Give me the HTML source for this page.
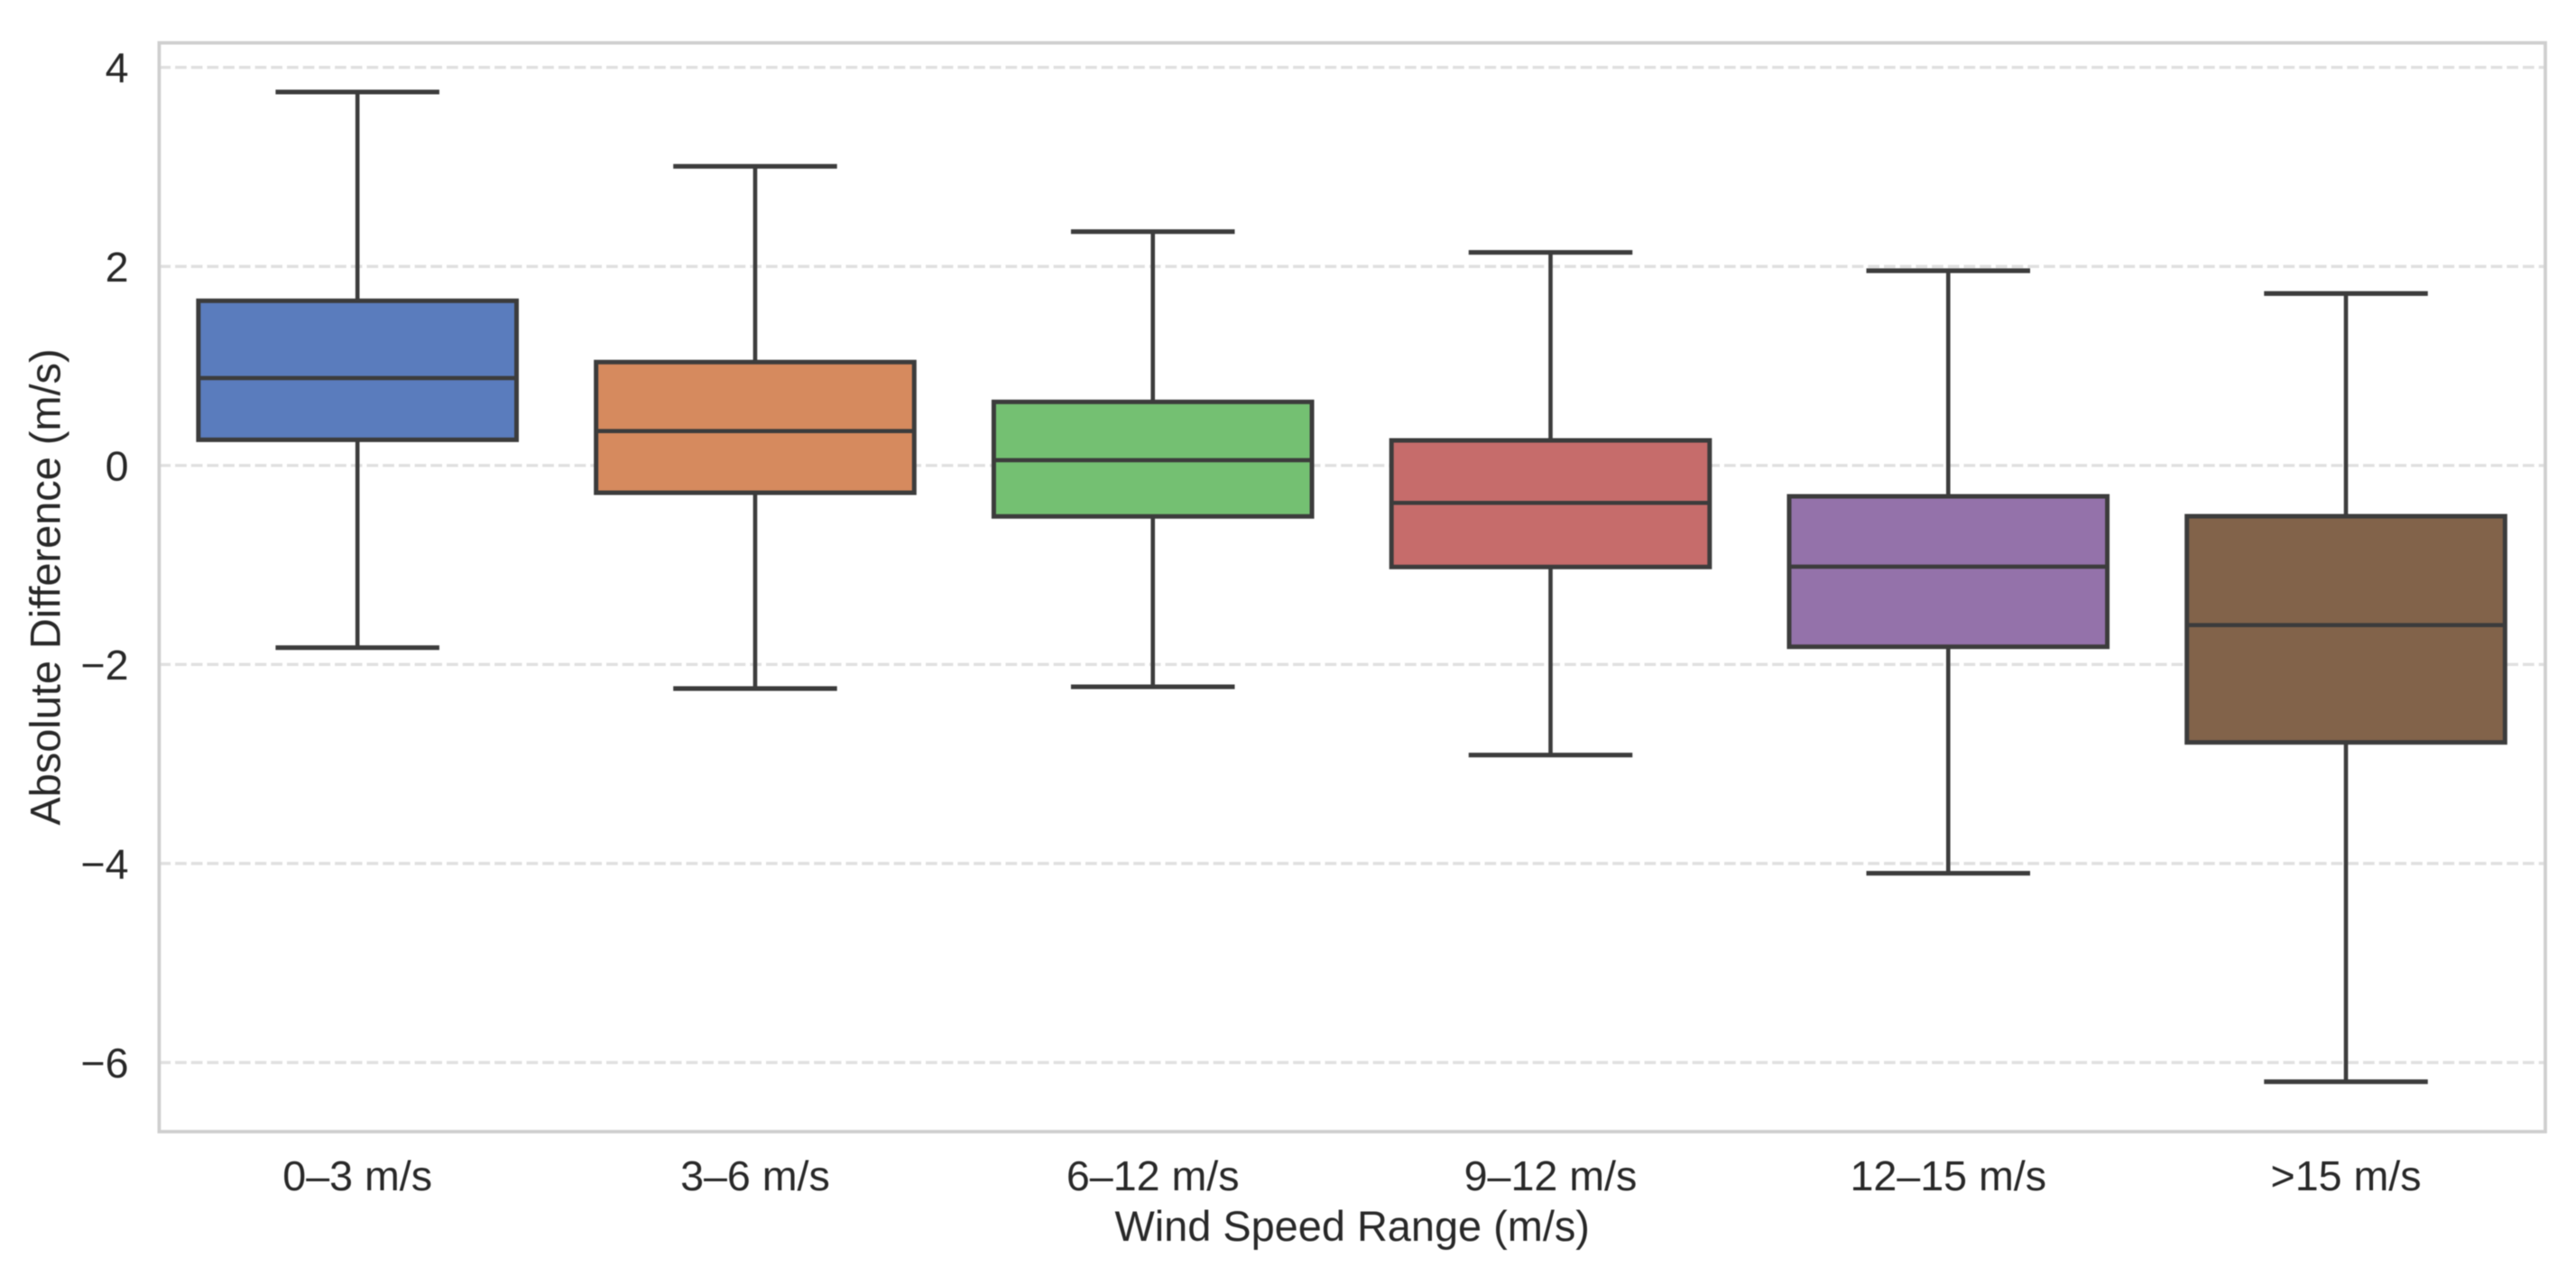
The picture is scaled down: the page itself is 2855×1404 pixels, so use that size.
<!DOCTYPE html>
<html lang="en">
<head>
<meta charset="utf-8">
<title>Absolute Difference by Wind Speed Range</title>
<style>
html,body{margin:0;padding:0;background:#fff;width:2855px;height:1404px;overflow:hidden}
svg{display:block;filter:blur(0.55px)}
text{font-family:"Liberation Sans",Arial,sans-serif;fill:#282828}
</style>
</head>
<body>
<svg id="chart" xmlns="http://www.w3.org/2000/svg" width="2855" height="1404" viewBox="0 0 2855 1404"></svg>
<script>
const categories = ['0–3 m/s', '3–6 m/s', '6–12 m/s', '9–12 m/s', '12–15 m/s', '>15 m/s'];
const whiskerHigh = [3.753, 3.006, 2.350, 2.141, 1.957, 1.728];
const q3Values = [1.655, 1.039, 0.639, 0.252, -0.310, -0.510];
const medianValues = [0.878, 0.346, 0.053, -0.376, -1.017, -1.604];
const q1Values = [0.258, -0.274, -0.512, -1.020, -1.822, -2.783];
const whiskerLow = [-1.831, -2.242, -2.224, -2.910, -4.098, -6.193];
const yTickValues = [4, 2, 0, -2, -4, -6];
const yTickLabels = ['4', '2', '0', '−2', '−4', '−6'];
const boxColors = ['#5a7cbd', '#d68a5e', '#74c072', '#c66c6b', '#9472aa', '#82634a'];

const NS = 'http://www.w3.org/2000/svg';
const svg = document.getElementById('chart');
const plot = { left: 176.4, right: 2821, top: 47.5, bottom: 1254 };
const INK = '#3c3c3c';
const FONT = 46.6;

function xScale(i) {
  const step = (plot.right - plot.left) / categories.length;
  return plot.left + step * (i + 0.5) - 0.6;
}
function bandWidth() {
  return (plot.right - plot.left) / categories.length;
}
function yScale(v) {
  return 515.8 - 110.27 * v;
}
function make(tag, attrs, parent) {
  const el = document.createElementNS(NS, tag);
  for (const k in attrs) el.setAttribute(k, attrs[k]);
  parent.appendChild(el);
  return el;
}

// gridlines
const gridGroup = make('g', {}, svg);


yTickValues.forEach(function (v) {
  const line = make('line', {
    x1: plot.left, x2: plot.right, y1: yScale(v), y2: yScale(v),
    stroke: '#e0e0e0', 'stroke-width': 3.4, 'stroke-dasharray': '12.7 5'
  }, gridGroup);
  
  
});

// boxes
categories.forEach(function (cat, i) {
  const cx = xScale(i);
  const boxHalf = bandWidth() * 0.4;
  const capHalf = bandWidth() * 0.2;
  const group = make('g', {}, svg);
  
  

  const upper = make('line', { x1: cx, x2: cx, y1: yScale(q3Values[i]), y2: yScale(whiskerHigh[i]), stroke: INK, 'stroke-width': 4.6 }, group);
  
  

  const lower = make('line', { x1: cx, x2: cx, y1: yScale(q1Values[i]), y2: yScale(whiskerLow[i]), stroke: INK, 'stroke-width': 4.6 }, group);
  
  

  const capHi = make('line', { x1: cx - capHalf, x2: cx + capHalf, y1: yScale(whiskerHigh[i]), y2: yScale(whiskerHigh[i]), stroke: INK, 'stroke-width': 5.2, 'stroke-linecap': 'square' }, group);
  
  

  const capLo = make('line', { x1: cx - capHalf, x2: cx + capHalf, y1: yScale(whiskerLow[i]), y2: yScale(whiskerLow[i]), stroke: INK, 'stroke-width': 5.2, 'stroke-linecap': 'square' }, group);
  
  

  const box = make('rect', {
    x: cx - boxHalf, y: yScale(q3Values[i]), width: boxHalf * 2,
    height: yScale(q1Values[i]) - yScale(q3Values[i]),
    fill: boxColors[i], stroke: INK, 'stroke-width': 5
  }, group);
  
  

  const med = make('line', { x1: cx - boxHalf, x2: cx + boxHalf, y1: yScale(medianValues[i]), y2: yScale(medianValues[i]), stroke: INK, 'stroke-width': 4.6 }, group);
  
  

  const label = make('text', { x: cx, y: 1319, 'text-anchor': 'middle', 'font-size': FONT }, svg);
  label.textContent = cat;
  
  
});

// y tick labels
yTickValues.forEach(function (v, i) {
  const t = make('text', { x: 142.5, y: yScale(v) + 16.5, 'text-anchor': 'end', 'font-size': FONT }, svg);
  t.textContent = yTickLabels[i];
  
  
});

// frame
const frame = make('rect', {
  x: plot.left, y: plot.top, width: plot.right - plot.left, height: plot.bottom - plot.top,
  fill: 'none', stroke: '#cfcfcf', 'stroke-width': 3.8
}, svg);



// axis titles
const xTitle = make('text', { x: 1498.7, y: 1375, 'text-anchor': 'middle', 'font-size': 46.9 }, svg);
xTitle.textContent = 'Wind Speed Range (m/s)';



const yTitle = make('text', { x: 0, y: 0, 'text-anchor': 'middle', 'font-size': 46.9, transform: 'translate(66.5 650.5) rotate(-90)' }, svg);
yTitle.textContent = 'Absolute Difference (m/s)';


</script>
</body>
</html>
